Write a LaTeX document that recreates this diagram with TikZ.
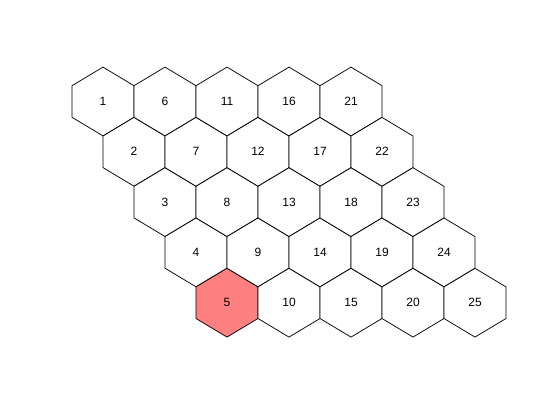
\documentclass[tikz,border=0pt]{standalone}
\usepackage{fontspec}
\setmainfont{Liberation Sans}
\definecolor{hexred}{RGB}{255,128,128}
\tikzset{
  hexedge/.style={draw=black, line width=0.7pt, line join=miter},
  hexlabel/.style={font=\fontsize{12}{14}\selectfont, inner sep=0pt}
}
\begin{document}
\begin{tikzpicture}[x=1pt,y=-1pt]
\useasboundingbox (0,0) rectangle (560,420);
\foreach \i in {0,...,4}{
  \foreach \j in {0,...,4}{
    \pgfmathtruncatemacro{\n}{5*\i+\j+1}
    \pgfmathsetmacro{\cx}{103+62*\i+31*\j}
    \pgfmathsetmacro{\cy}{101.5+50.3*\j}
    \ifnum\n=5
      \def\hexfill{hexred}
    \else
      \def\hexfill{white}
    \fi
    \draw[hexedge, fill=\hexfill] (\cx,\cy) ++(0,-34.4) -- ++(31,18.6) -- ++(0,31.6) -- ++(-31,18.6) -- ++(-31,-18.6) -- ++(0,-31.6) -- cycle;
    \node[hexlabel] (h\n) at (\cx,\cy) {\n};
  }
}
\end{tikzpicture}
\end{document}
